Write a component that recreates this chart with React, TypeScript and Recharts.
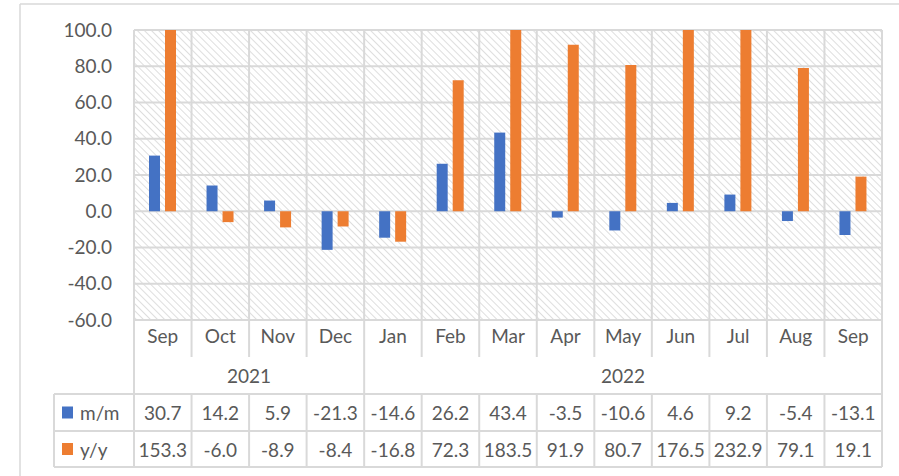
import { BarChart, Bar, XAxis, YAxis, CartesianGrid } from 'recharts';

// months shown under the plot (Sep 2021 .. Sep 2022)
const months = ['Sep', 'Oct', 'Nov', 'Dec', 'Jan', 'Feb', 'Mar', 'Apr', 'May', 'Jun', 'Jul', 'Aug', 'Sep'];
const years = [
  { label: '2021', span: 4 },
  { label: '2022', span: 9 },
];
const mmValues = [30.7, 14.2, 5.9, -21.3, -14.6, 26.2, 43.4, -3.5, -10.6, 4.6, 9.2, -5.4, -13.1];
const yyValues = [153.3, -6.0, -8.9, -8.4, -16.8, 72.3, 183.5, 91.9, 80.7, 176.5, 232.9, 79.1, 19.1];
const yTicks = [-60, -40, -20, 0, 20, 40, 60, 80, 100];

const BLUE = '#4472C4';
const ORANGE = '#ED7D31';
const GRID = '#d9d9d9';
const TEXT = '#595959';
const FONT = 'Lato, "Open Sans", sans-serif';

const W = 899;
const H = 476;
const PLOT_LEFT = 134;
const PLOT_RIGHT = 882;
const PLOT_TOP = 30;
const PLOT_BOTTOM = 320;
const AXIS_H = 37;

const data = months.map((m, i) => ({ idx: i, month: m, mm: mmValues[i], yy: yyValues[i] }));

// data table under the chart (Excel style)
function DataTable() {
  const cw = (PLOT_RIGHT - PLOT_LEFT) / months.length;
  const monthBottom = PLOT_BOTTOM + AXIS_H;
  const yearBottom = 394;
  const row1Bottom = 431;
  const row2Bottom = 467;
  const legendLeft = 54;
  const lines: JSX.Element[] = [];

  for (let i = 0; i <= months.length; i++) {
    const x = PLOT_LEFT + i * cw;
    const edge = i === 0 || i === months.length;
    lines.push(<line key={`m${i}`} x1={x} x2={x} y1={PLOT_BOTTOM} y2={edge ? yearBottom : monthBottom} />);
    lines.push(<line key={`v${i}`} x1={x} x2={x} y1={yearBottom} y2={row2Bottom} />);
  }
  let acc = 0;
  years.forEach((y, i) => {
    acc += y.span;
    if (i < years.length - 1) {
      const x = PLOT_LEFT + acc * cw;
      lines.push(<line key={`y${i}`} x1={x} x2={x} y1={monthBottom} y2={yearBottom} />);
    }
  });
  [yearBottom, row1Bottom, row2Bottom].forEach((y, i) =>
    lines.push(<line key={`h${i}`} x1={legendLeft} x2={PLOT_RIGHT} y1={y} y2={y} />)
  );
  lines.push(<line key="lg" x1={legendLeft} x2={legendLeft} y1={yearBottom} y2={row2Bottom} />);

  let start = 0;
  const yearLabels = years.map((y) => {
    const cx = PLOT_LEFT + (start + y.span / 2) * cw;
    start += y.span;
    return (
      <text key={y.label} x={cx} y={(monthBottom + yearBottom) / 2} textAnchor="middle" dominantBaseline="central">
        {y.label}
      </text>
    );
  });

  const rows = [
    { name: 'm/m', color: BLUE, values: mmValues, top: yearBottom, bottom: row1Bottom },
    { name: 'y/y', color: ORANGE, values: yyValues, top: row1Bottom, bottom: row2Bottom },
  ];

  return (
    <svg width={W} height={H} style={{ position: 'absolute', left: 0, top: 0, pointerEvents: 'none' }}>
      {/* chart area frame */}
      <line x1={20} x2={20} y1={4} y2={H} stroke={GRID} strokeWidth={1.5} />
      <line x1={20} x2={W} y1={4} y2={4} stroke={GRID} strokeWidth={1.5} />
      <g stroke={GRID} strokeWidth={2}>{lines}</g>
      <g fill={TEXT} fontFamily={FONT} fontSize={19}>
        {yearLabels}
        {rows.map((r) => {
          const cy = (r.top + r.bottom) / 2;
          return (
            <g key={r.name}>
              <rect x={62} y={cy - 6} width={11} height={12} fill={r.color} />
              <text x={80} y={cy} dominantBaseline="central">{r.name}</text>
              {r.values.map((v, i) => (
                <text key={i} x={PLOT_LEFT + (i + 0.5) * cw} y={cy} textAnchor="middle" dominantBaseline="central">
                  {v.toFixed(1)}
                </text>
              ))}
            </g>
          );
        })}
      </g>
    </svg>
  );
}

export default function App() {
  return (
    <div style={{ position: 'absolute', left: 0, top: 0, width: W, height: H, background: '#fff' }}>
      <BarChart
        width={W}
        height={H}
        data={data}
        margin={{ top: PLOT_TOP, right: W - PLOT_RIGHT, left: 0, bottom: H - PLOT_BOTTOM - AXIS_H }}
        barSize={11}
        barGap={5}
      >
        <defs>
          <pattern id="hatch" patternUnits="userSpaceOnUse" width={5} height={5} patternTransform="rotate(-45)">
            <line x1={0} y1={0} x2={0} y2={5} stroke="#dedede" strokeWidth={2} />
          </pattern>
        </defs>
        <CartesianGrid
          fill="url(#hatch)"
          fillOpacity={1}
          stroke={GRID}
          strokeWidth={2}
          verticalCoordinatesGenerator={({ offset }: any) =>
            months.map((_, i) => offset.left + (i * offset.width) / months.length).concat(offset.left + offset.width)
          }
        />
        <XAxis
          dataKey="idx"
          height={AXIS_H}
          axisLine={false}
          tickLine={false}
          tickSize={0}
          tickMargin={10}
          interval={0}
          tickFormatter={(i: number) => months[i]}
          tick={{ fill: TEXT, fontSize: 19, fontFamily: FONT }}
        />
        <YAxis
          width={PLOT_LEFT}
          domain={[-60, 100]}
          ticks={yTicks}
          allowDataOverflow
          axisLine={false}
          tickLine={false}
          tickSize={0}
          tickMargin={22}
          tickFormatter={(v: number) => v.toFixed(1)}
          tick={{ fill: TEXT, fontSize: 19, fontFamily: FONT }}
        />
        <Bar dataKey="mm" name="m/m" fill={BLUE} isAnimationActive={false} />
        <Bar dataKey="yy" name="y/y" fill={ORANGE} isAnimationActive={false} />
      </BarChart>
      <DataTable />
    </div>
  );
}
